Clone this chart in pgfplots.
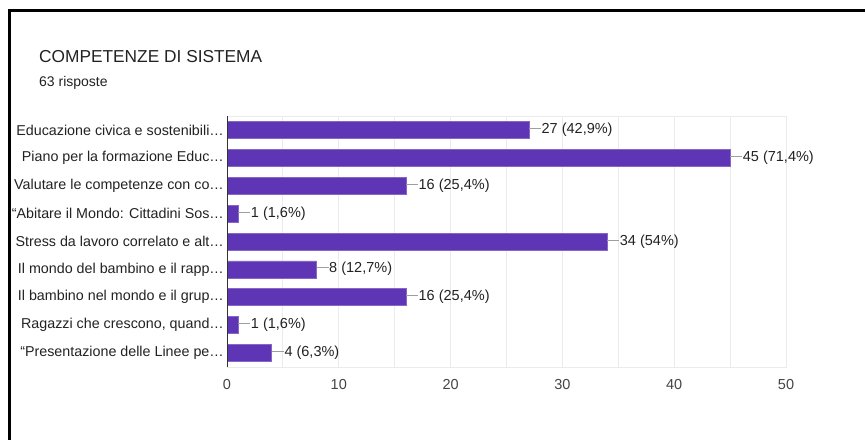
\documentclass[border=0pt]{standalone}
\usepackage{fontspec}
\setmainfont{Liberation Sans}
\usepackage{pgfplots}
\pgfplotsset{compat=1.18}

\definecolor{barcol}{HTML}{5E35B5}
\definecolor{gridcol}{HTML}{EBEBEB}
\definecolor{spinecol}{HTML}{333333}
\definecolor{leadcol}{HTML}{9E9E9E}
\definecolor{textcol}{HTML}{222222}
\definecolor{tickcol}{HTML}{444444}

\newcommand\lab{\fontsize{14.5bp}{17bp}\selectfont}
\newcommand\catlab{\fontsize{14.3bp}{17bp}\selectfont}

\begin{document}
\begin{tikzpicture}
\path[use as bounding box] (0,0) rectangle (865bp,440bp);
% screenshot frame
\draw[line width=3bp, line join=miter] (9.5bp,0) -- (9.5bp,429.5bp) -- (865bp,429.5bp);

\node[anchor=base west, inner sep=0pt, text=textcol] at (39bp,377bp)
  {\fontsize{17.3bp}{20bp}\selectfont COMPETENZE DI SISTEMA};
\node[anchor=base west, inner sep=0pt, text=textcol] at (39bp,353bp)
  {\fontsize{14bp}{17bp}\selectfont 63 risposte};

\begin{axis}[
    at={(227bp,73bp)}, anchor=south west,
    scale only axis,
    width=559bp, height=251bp,
    xbar, bar width=17bp,
    xmin=0, xmax=50,
    ymin=-0.5, ymax=8.5,
    y dir=reverse,
    clip=false,
    xtick={0,10,...,50},
    minor xtick={5,15,...,45},
    xmajorgrids, xminorgrids,
    major grid style={draw=gridcol, line width=1bp},
    minor grid style={draw=gridcol, line width=1bp},
    axis line style={draw=gridcol, line width=1bp},
    major tick length=0pt, minor tick length=0pt,
    ytick={0,...,8},
    yticklabels={
      Educazione civica e sostenibili…,
      Piano per la formazione Educ…,
      Valutare le competenze con co…,
      “Abitare il Mondo: Cittadini Sos…,
      Stress da lavoro correlato e alt…,
      Il mondo del bambino e il rapp…,
      Il bambino nel mondo e il grup…,
      {Ragazzi che crescono, quand…},
      “Presentazione delle Linee pe…},
    yticklabel style={font=\catlab, text=textcol, inner sep=0pt, anchor=east, xshift=-3bp},
    xticklabel style={font=\lab, text=tickcol, inner sep=0pt, anchor=north, yshift=-12bp},
    /pgf/number format/assume math mode=true,
    point meta=explicit symbolic,
    nodes near coords={{\color{leadcol}\rule[0.32em]{12bp}{0.9bp}}\hspace{0.5bp}\pgfplotspointmeta},
    every node near coord/.append style={font=\lab, text=textcol, anchor=base west,
      inner sep=0pt, xshift=0bp, yshift=-0.36em},
]
\addplot[fill=barcol, draw=barcol!75!white, line width=0.6bp] coordinates {
    (27,0) [27 (42,9\%)]
    (45,1) [45 (71,4\%)]
    (16,2) [16 (25,4\%)]
    (1,3)  [1 (1,6\%)]
    (34,4) [34 (54\%)]
    (8,5)  [8 (12,7\%)]
    (16,6) [16 (25,4\%)]
    (1,7)  [1 (1,6\%)]
    (4,8)  [4 (6,3\%)]
};
\draw[spinecol, line width=1bp] (rel axis cs:0,0) -- (rel axis cs:0,1);
\end{axis}
\end{tikzpicture}
\end{document}
